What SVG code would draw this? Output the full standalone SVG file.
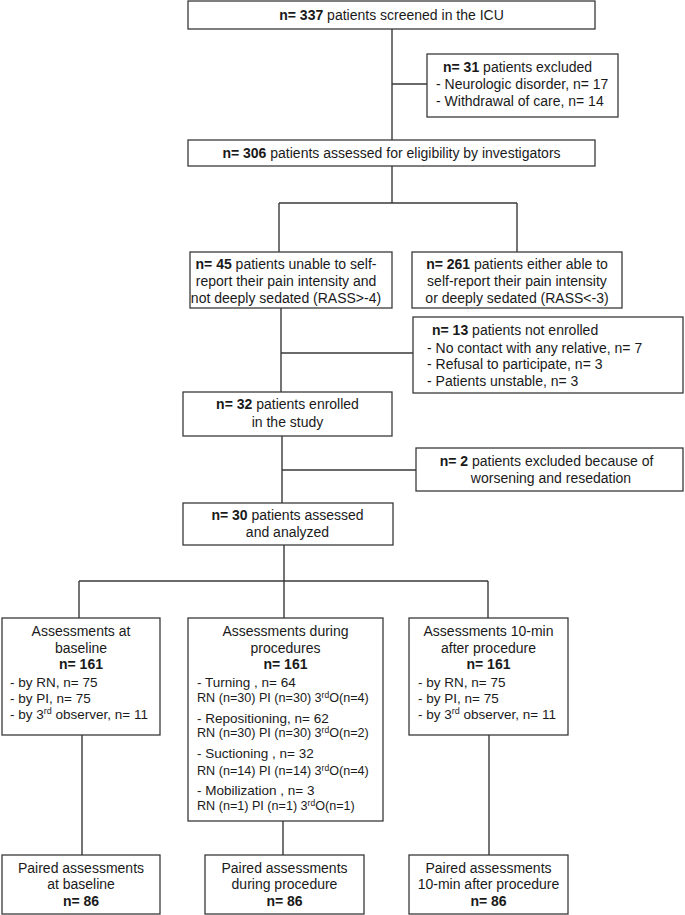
<svg xmlns="http://www.w3.org/2000/svg" width="685" height="915" viewBox="0 0 685 915">
<style>
rect{fill:#fff;stroke:#3a3a3a;stroke-width:1.3}
text{font-family:"Liberation Sans",Arial,sans-serif;font-size:14px;fill:#1a1a1a}
.c{text-anchor:middle}
.b{font-weight:bold}
.s{font-size:12.6px}
.l{font-size:13.5px}
#connectors path{fill:none;stroke:#3a3a3a;stroke-width:1.4}
</style>
<rect x="0" y="0" width="685" height="915" style="stroke:none"/>
<g id="connectors">
<path d="M392 29V140M392 84H427"/>
<path d="M392 166V203M279 203H517M279 203V252M517 203V252"/>
<path d="M281 308V392M281 353H413"/>
<path d="M282 436V503M282 470H416"/>
<path d="M284 545V581M79 581H488M79 581V618M284 581V618M488 581V618"/>
<path d="M82 735V855M283 821V855M489 735V855"/>
</g>
<g id="screened">
<rect x="188" y="1" width="407" height="28"/>
<text class="c" x="391.5" y="20"><tspan class="b">n= 337</tspan> patients screened in the ICU</text>
</g>
<g id="excluded31">
<rect x="427" y="54" width="191" height="63"/>
<text x="443" y="72"><tspan class="b">n= 31</tspan> patients excluded</text>
<text x="436" y="89">- Neurologic disorder, n= 17</text>
<text x="436" y="106">- Withdrawal of care, n= 14</text>
</g>
<g id="assessed306">
<rect x="188" y="140" width="407" height="26"/>
<text class="c" x="391.5" y="158"><tspan class="b">n= 306</tspan> patients assessed for eligibility by investigators</text>
</g>
<g id="unable45">
<rect x="190" y="252" width="202" height="56"/>
<text class="c" x="286" y="269"><tspan class="b">n= 45</tspan> patients unable to self-</text>
<text class="c" x="286" y="286">report their pain intensity and</text>
<text class="c" x="286" y="303">not deeply sedated (RASS&gt;-4)</text>
</g>
<g id="able261">
<rect x="412" y="252" width="210" height="56"/>
<text class="c" x="517" y="269"><tspan class="b">n= 261</tspan> patients either able to</text>
<text class="c" x="517" y="286">self-report their pain intensity</text>
<text class="c" x="517" y="303">or deeply sedated (RASS&lt;-3)</text>
</g>
<g id="notenrolled13">
<rect x="413" y="317" width="270" height="76"/>
<text x="432" y="335"><tspan class="b">n= 13</tspan> patients not enrolled</text>
<text x="427" y="353">- No contact with any relative, n= 7</text>
<text x="427" y="369">- Refusal to participate, n= 3</text>
<text x="427" y="386">- Patients unstable, n= 3</text>
</g>
<g id="enrolled32">
<rect x="183" y="392" width="209" height="44"/>
<text class="c" x="287.5" y="409"><tspan class="b">n= 32</tspan> patients enrolled</text>
<text class="c" x="287.5" y="427">in the study</text>
</g>
<g id="excluded2">
<rect x="416" y="448" width="267" height="43"/>
<text class="c" x="546.5" y="466"><tspan class="b">n= 2</tspan> patients excluded because of</text>
<text class="c" x="551" y="483">worsening and resedation</text>
</g>
<g id="analyzed30">
<rect x="183" y="503" width="210" height="42"/>
<text class="c" x="287.5" y="520"><tspan class="b">n= 30</tspan> patients assessed</text>
<text class="c" x="287.5" y="537">and analyzed</text>
</g>
<g id="baseline">
<rect x="2" y="618" width="158" height="117"/>
<text class="c" x="81" y="636">Assessments at</text>
<text class="c" x="81" y="653">baseline</text>
<text class="c b" x="81" y="669">n= 161</text>
<text class="l" x="10" y="687">- by RN, n= 75</text>
<text class="l" x="10" y="703">- by PI, n= 75</text>
<text class="l" x="10" y="719">- by 3<tspan font-size="9" dy="-5">rd</tspan><tspan dy="5"> observer, n= 11</tspan></text>
</g>
<g id="during">
<rect x="188" y="618" width="195" height="203"/>
<text class="c" x="285.5" y="636">Assessments during</text>
<text class="c" x="285.5" y="653">procedures</text>
<text class="c b" x="285.5" y="669">n= 161</text>
<text class="l" x="197" y="687">- Turning , n= 64</text>
<text class="s" x="197" y="702">RN (n=30) PI (n=30) 3<tspan font-size="8.5" dy="-4.5">rd</tspan><tspan dy="4.5">O(n=4)</tspan></text>
<text class="l" x="197" y="723">- Repositioning, n= 62</text>
<text class="s" x="197" y="737">RN (n=30) PI (n=30) 3<tspan font-size="8.5" dy="-4.5">rd</tspan><tspan dy="4.5">O(n=2)</tspan></text>
<text class="l" x="197" y="758">- Suctioning , n= 32</text>
<text class="s" x="197" y="775">RN (n=14) PI (n=14) 3<tspan font-size="8.5" dy="-4.5">rd</tspan><tspan dy="4.5">O(n=4)</tspan></text>
<text class="l" x="197" y="795">- Mobilization , n= 3</text>
<text class="s" x="197" y="810">RN (n=1) PI (n=1) 3<tspan font-size="8.5" dy="-4.5">rd</tspan><tspan dy="4.5">O(n=1)</tspan></text>
</g>
<g id="after">
<rect x="409" y="618" width="159" height="117"/>
<text class="c" x="488.5" y="636">Assessments 10-min</text>
<text class="c" x="488.5" y="653">after procedure</text>
<text class="c b" x="488.5" y="669">n= 161</text>
<text class="l" x="418" y="687">- by RN, n= 75</text>
<text class="l" x="418" y="703">- by PI, n= 75</text>
<text class="l" x="418" y="719">- by 3<tspan font-size="9" dy="-5">rd</tspan><tspan dy="5"> observer, n= 11</tspan></text>
</g>
<g id="paired-baseline">
<rect x="2" y="855" width="158" height="59"/>
<text class="c" x="81" y="873">Paired assessments</text>
<text class="c" x="81" y="889">at baseline</text>
<text class="c b" x="81" y="906">n= 86</text>
</g>
<g id="paired-during">
<rect x="205" y="855" width="159" height="59"/>
<text class="c" x="284.5" y="873">Paired assessments</text>
<text class="c" x="284.5" y="889">during procedure</text>
<text class="c b" x="284.5" y="906">n= 86</text>
</g>
<g id="paired-after">
<rect x="409" y="855" width="159" height="59"/>
<text class="c" x="488.5" y="873">Paired assessments</text>
<text class="c" x="488.5" y="889">10-min after procedure</text>
<text class="c b" x="488.5" y="906">n= 86</text>
</g>
</svg>
